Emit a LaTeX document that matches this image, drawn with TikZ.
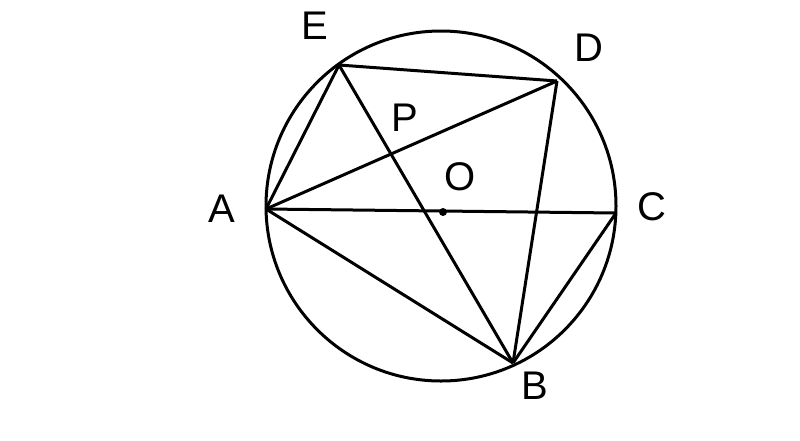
\documentclass[tikz,border=0pt]{standalone}
\usepackage{fontspec}
\setmainfont{Liberation Sans}
\usepackage{amsmath}

\begin{document}
\begin{tikzpicture}[x=1pt, y=-1pt, line width=3pt]
	\useasboundingbox (0,0) rectangle (800,440);
	\draw (441,206) circle (175pt);

	\coordinate (A) at (266,209);
	\coordinate (B) at (513,363);
	\coordinate (C) at (616,213);
	\coordinate (D) at (557,81);
	\coordinate (E) at (339,65);
	\coordinate (O) at (443,212);

	\draw (E) to (D);
	\draw (E) to (A);
	\draw (E) to (B);
	\draw (A) to (D);
	\draw (A) to (C);
	\draw (A) to (B);
	\draw (D) to (B);
	\draw (C) to (B);
	\fill (O) circle (4pt);

	\node (label-E) at (315,26) {\fontsize{40}{48}\selectfont E};
	\node (label-D) at (589,48) {\fontsize{40}{48}\selectfont D};
	\node (label-P) at (405,118) {\fontsize{40}{48}\selectfont P};
	\node (label-O) at (460,177) {\fontsize{40}{48}\selectfont O};
	\node (label-A) at (222,209) {\fontsize{40}{48}\selectfont A};
	\node (label-C) at (652,207) {\fontsize{40}{48}\selectfont C};
	\node (label-B) at (535,386) {\fontsize{40}{48}\selectfont B};
\end{tikzpicture}
\end{document}
